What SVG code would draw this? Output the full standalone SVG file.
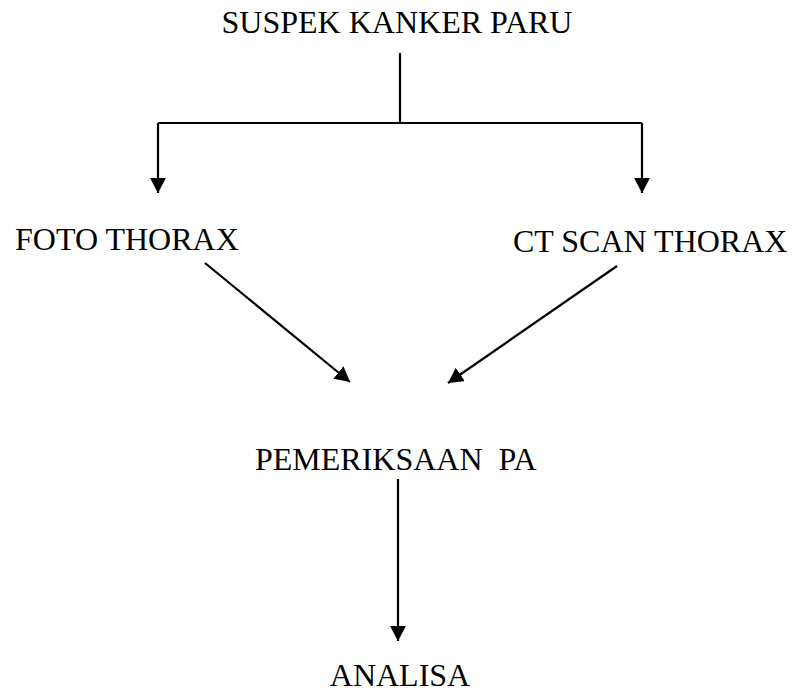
<svg xmlns="http://www.w3.org/2000/svg" width="795" height="696" viewBox="0 0 795 696">
<style>
.lbl{font-family:"Liberation Serif","Times New Roman",serif;font-size:32px;fill:#000;}
.ln{stroke:#000;stroke-width:2.2;fill:none;}
</style>
<defs>
<marker id="ah" markerUnits="userSpaceOnUse" markerWidth="16" markerHeight="16" refX="15" refY="8" orient="auto" viewBox="0 0 16 16">
<path d="M0,0 L15,8 L0,16 Z" fill="#000"/>
</marker>
</defs>
<rect width="795" height="696" fill="#fff"/>
<g id="connectors">
<polyline class="ln" points="400,53 400,123"/>
<polyline class="ln" points="158,123 642,123"/>
<line class="ln" x1="158" y1="123" x2="158" y2="193" marker-end="url(#ah)"/>
<line class="ln" x1="642" y1="123" x2="642" y2="193" marker-end="url(#ah)"/>
<line class="ln" x1="205" y1="263" x2="350" y2="382" marker-end="url(#ah)"/>
<line class="ln" x1="617" y1="266" x2="448" y2="383" marker-end="url(#ah)"/>
<line class="ln" x1="398" y1="479" x2="398" y2="641" marker-end="url(#ah)"/>
</g>
<g id="n-suspek"><text class="lbl" x="397" y="33" text-anchor="middle">SUSPEK KANKER PARU</text></g>
<g id="n-foto"><text class="lbl" x="15" y="250">FOTO THORAX</text></g>
<g id="n-ct"><text class="lbl" x="513" y="252">CT SCAN THORAX</text></g>
<g id="n-pa"><text class="lbl" x="255" y="470" xml:space="preserve">PEMERIKSAAN  PA</text></g>
<g id="n-analisa"><text class="lbl" x="400" y="686" text-anchor="middle">ANALISA</text></g>
</svg>
